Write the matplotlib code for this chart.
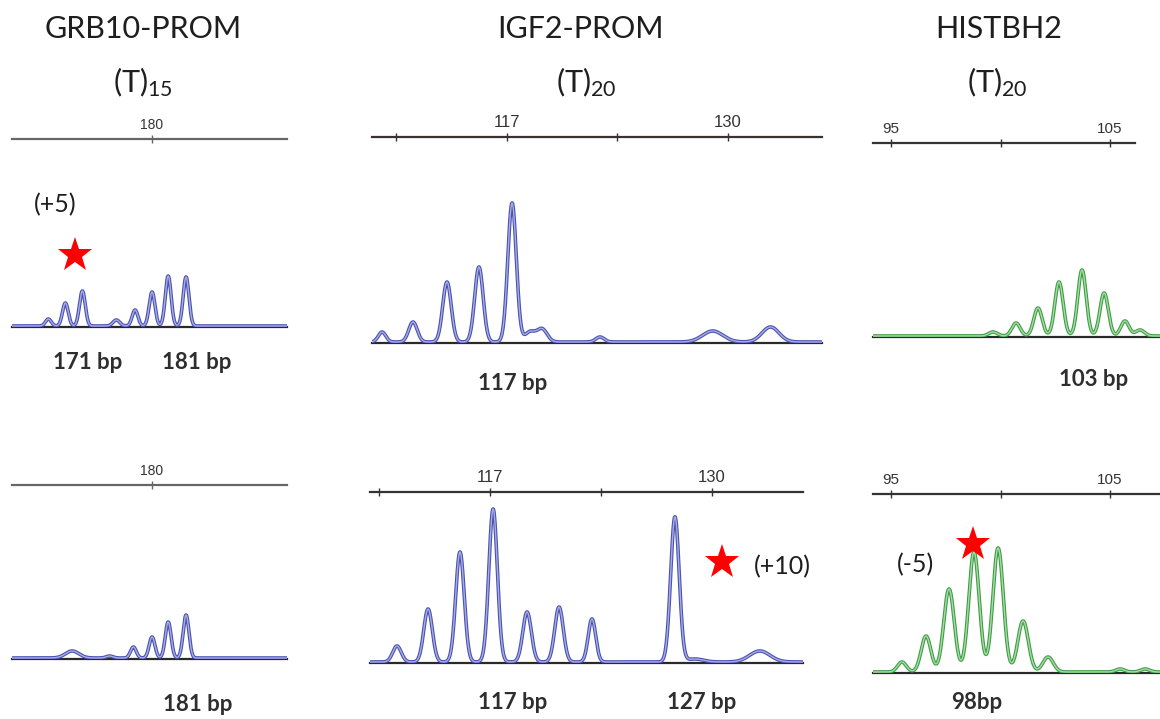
import numpy as np
import matplotlib.pyplot as plt

plt.rcParams['font.family'] = ['Lato', 'DejaVu Sans']
plt.rcParams['mathtext.default'] = 'regular'

W, H = 1160, 719  # output size in pixels

# ---- data: peak sizes [bp], heights [rfu], widths [bp] ----
# GRB10-PROM (T)15
grb10_top_pos = [173.9, 174.9, 175.9, 177.9, 179.0, 180.0, 180.95, 182.0]
grb10_top_h = [7, 23, 35, 6, 16, 34, 50, 49]
grb10_top_w = [0.17, 0.17, 0.17, 0.2, 0.17, 0.17, 0.17, 0.17]
grb10_bot_pos = [175.3, 177.5, 178.9, 180.0, 180.95, 182.0]
grb10_bot_h = [7, 2, 11, 21, 36, 43]
grb10_bot_w = [0.4, 0.2, 0.17, 0.17, 0.17, 0.17]
grb10_ticks = [180]
grb10_ticklabels = ['180']

# IGF2-PROM (T)20
igf2_top_pos = [109.65, 111.47, 113.47, 115.35, 117.3, 118.35, 119.06, 122.47, 129.1, 132.5]
igf2_top_h = [10, 20, 60, 75, 139, 10, 13, 5, 11, 15]
igf2_top_w = [0.22, 0.25, 0.25, 0.25, 0.25, 0.3, 0.3, 0.25, 0.6, 0.5]
igf2_bot_pos = [111.55, 113.37, 115.24, 117.18, 119.17, 121.04, 122.97, 127.83, 129.0, 132.8]
igf2_bot_h = [16, 53, 110, 153, 50, 55, 43, 145, 3, 11]
igf2_bot_w = [0.25, 0.25, 0.25, 0.25, 0.25, 0.25, 0.22, 0.25, 0.5, 0.6]
igf2_ticks = [110.5, 117, 123.5, 130]
igf2_ticklabels = ['', '117', '', '130']

# HISTBH2 (T)20
hist_top_pos = [99.66, 100.71, 101.71, 102.67, 103.72, 104.73, 105.68, 106.37]
hist_top_h = [4, 13, 28, 54, 66, 43, 15, 6]
hist_top_w = [0.2, 0.19, 0.19, 0.19, 0.19, 0.19, 0.19, 0.2]
hist_bot_pos = [95.5, 96.6, 97.65, 98.79, 99.89, 101.03, 102.17, 105.46, 106.6]
hist_bot_h = [10, 36, 83, 120, 124, 51, 15, 3, 3]
hist_bot_w = [0.2, 0.22, 0.24, 0.24, 0.24, 0.24, 0.24, 0.2, 0.2]
hist_ticks = [95, 100, 105]
hist_ticklabels = ['95', '', '105']

# starred alleles: (size, height) in panel units
star_grb10 = (175.47, 72)
star_igf2 = (130.58, 101)
star_hist = (98.74, 129)

# trace colours: (edge, centre)
blue = ('#4a52b2', '#a9ade2')
green = ('#3f9d45', '#a6dca6')


def trace(x, pos, h, w):
    y = np.zeros_like(x)
    for p, a, s in zip(pos, h, w):
        y += a * np.exp(-0.5 * ((x - p) / s) ** 2)
    return y


def panel(px_left, px_right, px_ruler, px_base, xlim, pos, h, w, color,
          ticks, labels, tick_fs, ruler_color, ruler_end=None):
    fig = plt.gcf()
    ax = fig.add_axes([px_left / W, 1 - px_base / H,
                       (px_right - px_left) / W, (px_base - px_ruler) / H])
    x = np.linspace(xlim[0], xlim[1], 2000)
    y = trace(x, pos, h, w) + 1
    ax.plot(x, y, color=color[0], lw=2.6, solid_joinstyle='round', zorder=3)
    ax.plot(x, y, color=color[1], lw=1.0, solid_joinstyle='round', zorder=4)
    ax.set_xlim(*xlim)
    ax.set_ylim(0, px_base - px_ruler)
    for side in ['left', 'right']:
        ax.spines[side].set_visible(False)
    ax.spines['top'].set_color(ruler_color)
    ax.spines['top'].set_linewidth(1.6)
    ax.spines['bottom'].set_color('#2a2a2a')
    ax.spines['bottom'].set_linewidth(1.6)
    if ruler_end is not None:
        ax.spines['top'].set_bounds(xlim[0], ruler_end)
    ax.set_yticks([])
    ax.set_xticks(ticks)
    ax.set_xticklabels(labels)
    ax.tick_params(axis='x', top=True, bottom=False, labeltop=True,
                   labelbottom=False, direction='inout', length=6,
                   width=1, color=ruler_color, labelcolor='#333333',
                   labelsize=tick_fs, pad=2)
    for t in ax.get_xticklabels():
        t.set_family(['Liberation Sans', 'DejaVu Sans'])
    ax.patch.set_alpha(0)
    return ax


fig = plt.figure(figsize=(W / 100, H / 100), dpi=100)

a1 = panel(12, 287, 139, 327, (171.76, 187.94), grb10_top_pos, grb10_top_h,
           grb10_top_w, blue, grb10_ticks, grb10_ticklabels, 10, '#666666')
a2 = panel(12, 287, 485, 659, (171.76, 187.94), grb10_bot_pos, grb10_bot_h,
           grb10_bot_w, blue, grb10_ticks, grb10_ticklabels, 10, '#666666')
b1 = panel(372, 822, 137, 343, (109.06, 135.53), igf2_top_pos, igf2_top_h,
           igf2_top_w, blue, igf2_ticks, igf2_ticklabels, 12, '#3b3131')
b2 = panel(370, 803, 492, 663, (109.97, 135.33), igf2_bot_pos, igf2_bot_h,
           igf2_bot_w, blue, igf2_ticks, igf2_ticklabels, 12, '#333333')
c1 = panel(873, 1160, 143, 337, (94.18, 107.28), hist_top_pos, hist_top_h,
           hist_top_w, green, hist_ticks, hist_ticklabels, 11, '#333333',
           ruler_end=106.14)
c2 = panel(873, 1160, 494, 673, (94.18, 107.28), hist_bot_pos, hist_bot_h,
           hist_bot_w, green, hist_ticks, hist_ticklabels, 11, '#333333')

for ax, s in [(a1, star_grb10), (b2, star_igf2), (c2, star_hist)]:
    ax.plot([s[0]], [s[1]], marker='*', color='#ff0000', markersize=26,
            markeredgewidth=0, clip_on=False, zorder=5)


def ftext(px, py, s, **kw):
    fig.text(px / W, 1 - py / H, s, ha='center', va='baseline', **kw)


# titles
title_kw = dict(fontsize=22, color='#1e1e1e')
ftext(143, 38, 'GRB10-PROM', **title_kw)
ftext(143, 92, '(T)$_{15}$', **title_kw)
ftext(580, 38, 'IGF2-PROM', **title_kw)
ftext(586, 92, '(T)$_{20}$', **title_kw)
ftext(999, 38, 'HISTBH2', **title_kw)
ftext(997, 92, '(T)$_{20}$', **title_kw)

# fragment sizes
bp_kw = dict(fontsize=16, fontweight='bold', color='#2e2e2e')
ftext(88, 369, '171 bp', **bp_kw)
ftext(197, 369, '181 bp', **bp_kw)
ftext(513, 390, '117 bp', **bp_kw)
ftext(1094, 386, '103 bp', **bp_kw)
ftext(198, 711, '181 bp', **bp_kw)
ftext(513, 709, '117 bp', **bp_kw)
ftext(702, 709, '127 bp', **bp_kw)
ftext(977, 709, '98bp', **bp_kw)

# allele shift annotations
note_kw = dict(fontsize=18, color='#1e1e1e')
ftext(55, 212, '(+5)', **note_kw)
ftext(782, 574, '(+10)', **note_kw)
ftext(915, 572, '(-5)', **note_kw)

fig.savefig('out.png', dpi=100)
